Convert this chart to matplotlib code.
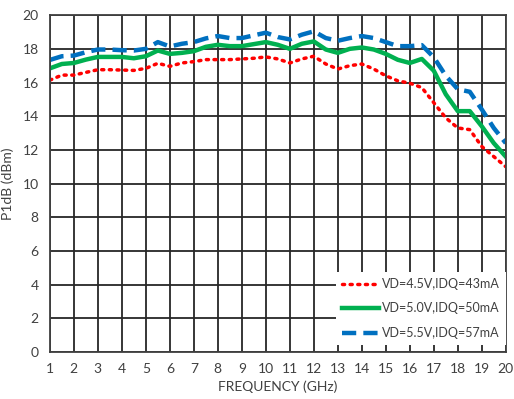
import numpy as np
import matplotlib
matplotlib.use("Agg")
import matplotlib.pyplot as plt

plt.rcParams['font.family'] = ['Lato', 'DejaVu Sans']

freq = np.arange(1, 20.5, 0.5)

p1db_45 = [16.14, 16.44, 16.44, 16.60, 16.76, 16.76, 16.74, 16.72, 16.84, 17.14,
           16.96, 17.16, 17.24, 17.36, 17.36, 17.36, 17.40, 17.44, 17.52, 17.40,
           17.16, 17.40, 17.56, 17.10, 16.80, 17.00, 17.10, 16.80, 16.40, 16.10,
           15.96, 15.70, 14.80, 13.90, 13.30, 13.20, 12.20, 11.60, 11.00]
p1db_50 = [16.84, 17.10, 17.16, 17.36, 17.52, 17.52, 17.52, 17.44, 17.56, 17.90,
           17.70, 17.76, 17.86, 18.12, 18.24, 18.16, 18.16, 18.28, 18.40, 18.24,
           18.00, 18.30, 18.44, 17.96, 17.76, 18.00, 18.08, 17.96, 17.70, 17.35,
           17.16, 17.40, 16.70, 15.30, 14.30, 14.30, 13.40, 12.40, 11.60]
p1db_55 = [17.34, 17.56, 17.60, 17.80, 17.96, 17.96, 17.92, 17.90, 18.00, 18.40,
           18.14, 18.30, 18.40, 18.62, 18.76, 18.64, 18.64, 18.80, 18.96, 18.70,
           18.56, 18.84, 19.04, 18.64, 18.48, 18.64, 18.76, 18.64, 18.40, 18.16,
           18.16, 18.22, 17.50, 16.40, 15.60, 15.45, 14.40, 13.30, 12.40]

labels = ['VD=4.5V,IDQ=43mA', 'VD=5.0V,IDQ=50mA', 'VD=5.5V,IDQ=57mA']

fig = plt.figure(figsize=(5.14, 3.99), dpi=100)
ax = fig.add_axes([0.097, 0.118, 0.887, 0.844])

ax.plot(freq, p1db_45, color='#FF0000', lw=2.5, linestyle=(0, (0.6, 1.6)),
        dash_capstyle='round', label=labels[0])
ax.plot(freq, p1db_50, color='#00B050', lw=3.2, label=labels[1])
ax.plot(freq, p1db_55, color='#0070C0', lw=3.2, linestyle=(0, (3.2, 1.6)),
        label=labels[2])

ax.set_xlim(1, 20)
ax.set_ylim(0, 20)
ax.set_xticks(range(1, 21))
ax.set_yticks(range(0, 21, 2))
ax.grid(True, color='#262626', lw=1.3)
ax.set_axisbelow(True)
for s in ax.spines.values():
    s.set_color('#404040')
    s.set_linewidth(1.3)
ax.tick_params(length=0, labelsize=10, labelcolor='#404040', pad=8)
ax.set_xlabel('FREQUENCY (GHz)', fontsize=10, color='#404040', labelpad=4)
ax.set_ylabel('P1dB (dBm)', fontsize=10, color='#404040', labelpad=6)

leg = ax.legend(loc='lower right', bbox_to_anchor=(1.0, 0.02), fontsize=9,
                frameon=True, framealpha=1, fancybox=False, edgecolor='none',
                handlelength=2.9, handletextpad=0.25, labelspacing=1.0,
                borderaxespad=0.0, borderpad=0.5)
for t in leg.get_texts():
    t.set_color('#404040')

fig.savefig('out.png', dpi=100)
